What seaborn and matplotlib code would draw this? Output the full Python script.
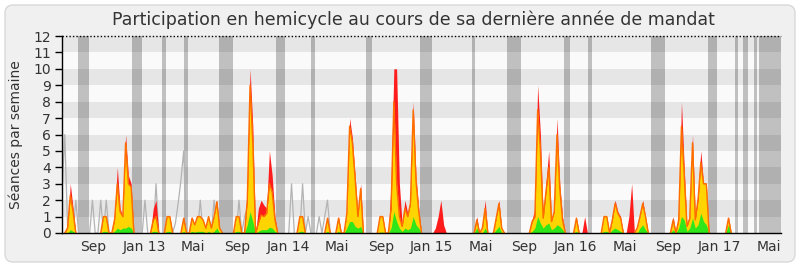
import matplotlib
matplotlib.use("Agg")
import matplotlib.pyplot as plt
import matplotlib.transforms as mtransforms
from matplotlib.patches import FancyBboxPatch
import numpy as np
import pandas as pd
import seaborn as sns

sns.set_style("white")
plt.rcParams['font.family'] = ['DejaVu Sans']

# ---------------- data (weekly values) ----------------
weeks = list(range(261))

presences = [
    0, 0, 0.3, 3, 1.5, 0, 0, 0, 0, 0,
    0, 0, 0, 0, 0, 1, 1, 0, 0, 1,
    4, 1.5, 1, 6, 3.5, 3, 0, 0, 0, 0,
    0, 0, 0, 1.5, 2, 0, 0, 0, 1, 1,
    0, 0, 0, 0, 1, 0, 0, 1, 0.5, 1,
    1, 0.8, 0.3, 1, 0.3, 1, 2, 0.3, 0, 0,
    0, 0, 0, 1, 1, 0, 0, 2.5, 10, 6.5,
    0, 1.5, 2, 1.7, 1.5, 5, 3.5, 1, 0, 0,
    0, 0, 0, 0, 0, 0, 1, 1, 0, 0,
    0, 0, 0, 0, 0, 0, 1, 0, 0, 0,
    1, 0, 0, 1.2, 7, 5.8, 3.5, 1.2, 3, 0,
    0, 0, 0, 0, 0, 1, 1, 0, 0, 3,
    10, 10, 3, 0.5, 2, 1.2, 2, 8, 3.5, 1.5,
    0, 0, 0, 0, 0, 0.3, 1, 2, 0.5, 0,
    0, 0, 0, 0, 0, 0, 0, 0, 0, 0,
    1, 0, 0.3, 2, 0, 0, 0, 1, 2, 0.3,
    0, 0, 0, 0, 0, 0, 0, 0, 0, 0,
    0.8, 1.5, 9, 6, 1, 3, 5, 0.8, 1.5, 7,
    3, 1, 0, 0, 0, 0, 1, 0, 0, 1,
    0, 0, 0, 0, 0, 0, 1, 1, 0, 1,
    2, 1.3, 1, 0, 0, 1, 3, 0, 0.3, 1,
    2, 1, 0, 0, 0, 0, 0, 0, 0, 0,
    0, 1, 0, 1, 8, 4, 0.5, 1, 6, 1,
    2.5, 5, 3, 3, 0, 0, 0, 0, 0, 0,
    0, 1, 0, 0, 0, 0, 0, 0, 0, 0,
    0, 0, 0, 0, 0, 0, 0, 0, 0, 0, 0,
]

participations = [
    0, 0, 0.3, 2.3, 1.3, 0, 0, 0, 0, 0,
    0, 0, 0, 0, 0, 1, 1, 0, 0, 0.8,
    3, 1.3, 1, 5.5, 3, 2.8, 0, 0, 0, 0,
    0, 0, 0, 0.8, 1, 0, 0, 0, 1, 1,
    0, 0, 0, 0, 0.9, 0, 0, 0.9, 0.5, 1,
    1, 0.8, 0.3, 1, 0.3, 1, 1.9, 0.3, 0, 0,
    0, 0, 0, 1, 1, 0, 0, 2, 9, 5.5,
    0, 0.6, 1.1, 1, 1.2, 3, 2.5, 0.8, 0, 0,
    0, 0, 0, 0, 0, 0, 1, 1, 0, 0,
    0, 0, 0, 0, 0, 0, 0.9, 0, 0, 0,
    0.9, 0, 0, 1.2, 6.5, 5.5, 3.3, 1, 2.7, 0,
    0, 0, 0, 0, 0, 1, 1, 0, 0, 1.5,
    8, 3, 1, 0.4, 1.5, 1, 1.8, 7.5, 3.2, 1.3,
    0, 0, 0, 0, 0, 0, 0, 0, 0, 0,
    0, 0, 0, 0, 0, 0, 0, 0, 0, 0,
    0.8, 0, 0.3, 1.5, 0, 0, 0, 0.9, 1.8, 0.3,
    0, 0, 0, 0, 0, 0, 0, 0, 0, 0,
    0.7, 1, 7.5, 5, 0.9, 2.5, 4, 0.7, 1.3, 6,
    2.7, 0.8, 0, 0, 0, 0, 0.9, 0, 0, 0,
    0, 0, 0, 0, 0, 0, 1, 1, 0, 0.8,
    1.8, 1.2, 0.9, 0, 0, 0, 0, 0, 0.3, 1,
    1.8, 1, 0, 0, 0, 0, 0, 0, 0, 0,
    0, 0.8, 0, 0.8, 6.5, 3.5, 0.4, 0.9, 5.5, 0.8,
    2, 4.3, 3, 3, 0, 0, 0, 0, 0, 0,
    0, 0.9, 0, 0, 0, 0, 0, 0, 0, 0,
    0, 0, 0, 0, 0, 0, 0, 0, 0, 0, 0,
]

interventions = [
    0, 0, 0, 0.2, 0.1, 0, 0, 0, 0, 0,
    0, 0, 0, 0, 0, 0.1, 0.1, 0, 0, 0.1,
    0.3, 0.2, 0.3, 0.3, 0.4, 0.3, 0, 0, 0, 0,
    0, 0, 0, 0.1, 0.1, 0, 0, 0, 0.1, 0.1,
    0, 0, 0, 0, 0.1, 0, 0, 0.1, 0.05, 0.1,
    0.1, 0.1, 0, 0.1, 0, 0.1, 0.3, 0, 0, 0,
    0, 0, 0, 0.1, 0.1, 0, 0, 0.5, 1.3, 0.7,
    0, 0.1, 0.2, 0.2, 0.2, 0.35, 0.3, 0.1, 0, 0,
    0, 0, 0, 0, 0, 0, 0.1, 0.1, 0, 0,
    0, 0, 0, 0, 0, 0, 0.1, 0, 0, 0,
    0.1, 0, 0, 0.3, 0.7, 0.7, 0.4, 0.3, 0.4, 0,
    0, 0, 0, 0, 0, 0.05, 0.05, 0, 0, 0.3,
    1.3, 0.7, 0.3, 0.1, 0.3, 0.2, 0.3, 1, 0.5, 0.3,
    0, 0, 0, 0, 0, 0, 0, 0, 0, 0,
    0, 0, 0, 0, 0, 0, 0, 0, 0, 0,
    0.3, 0, 0, 0.3, 0, 0, 0, 0.2, 0.4, 0,
    0, 0, 0, 0, 0, 0, 0, 0, 0, 0,
    0.1, 0.3, 1, 0.6, 0.3, 0.5, 0.6, 0.2, 0.3, 0.5,
    0.4, 0.2, 0, 0, 0, 0, 0.1, 0, 0, 0,
    0, 0, 0, 0, 0, 0, 0.1, 0.1, 0, 0.2,
    0.3, 0.2, 0.1, 0, 0, 0, 0, 0, 0, 0.3,
    0.5, 0.2, 0, 0, 0, 0, 0, 0, 0, 0,
    0, 0.2, 0, 0.3, 1, 0.8, 0.1, 0.3, 0.9, 0.3,
    0.5, 1.2, 0.7, 0.5, 0, 0, 0, 0, 0, 0,
    0, 0.5, 0, 0, 0, 0, 0, 0, 0, 0,
    0, 0, 0, 0, 0, 0, 0, 0, 0, 0, 0,
]

mediane = [
    2.5, 6, 0.5, 0, 0, 2, 0, 0, 0, 0,
    0, 2, 0, 0, 2, 0, 2, 0, 0, 0,
    0, 0, 0, 0, 0, 0, 0, 0, 0, 0,
    2, 0, 0, 0, 3, 0, 0, 0, 0, 0,
    0, 0.6, 1.8, 3.2, 5, 0, 0, 0, 0, 0,
    2, 0, 0, 0, 0, 2, 0, 0, 0, 0,
    0, 0, 0, 0, 2, 0, 1, 1.5, 0, 0,
    0, 0, 0, 0, 0, 0, 0, 0, 0, 0,
    0, 0, 0, 3, 0, 0, 0, 3, 0, 1,
    0, 0, 0, 1, 0, 1, 2, 0, 0, 0,
] + [0] * 161

vacances = [(5.8, 9.9), (25.4, 28.8), (36.3, 37.5), (44.1, 45.5), (56.8, 62.0),
            (77.4, 80.7), (90.1, 91.4), (109.9, 112.1), (129.5, 133.8),
            (148.3, 149.5), (160.8, 165.9), (181.6, 183.7), (190.2, 191.7),
            (212.9, 218.1), (233.6, 237.0), (243.3, 244.5), (246.2, 247.9),
            (250.3, 251.2), (252.2, 260.0)]

tick_weeks = [11.2, 29.8, 47.4, 63.2, 81.7, 99.5, 115.4, 133.6, 151.5,
              167.1, 185.8, 203.6, 219.2, 237.8, 255.7]
tick_labels = ["Sep", "Jan 13", "Mai", "Sep", "Jan 14", "Mai", "Sep", "Jan 15",
               "Mai", "Sep", "Jan 16", "Mai", "Sep", "Jan 17", "Mai"]

title = "Participation en hemicycle au cours de sa dernière année de mandat"
ylabel = "Séances par semaine"

df = pd.DataFrame({
    "semaine": weeks,
    "presences": presences,
    "participations": participations,
    "interventions": interventions,
    "mediane": mediane,
})


def visible_runs(col):
    """Keep only the parts of a line that leave zero; label each run."""
    v = df[col].to_numpy()
    nz = v > 0
    keep = nz.copy()
    keep[1:] |= nz[:-1]
    keep[:-1] |= nz[1:]
    run = np.cumsum(~keep)
    sub = pd.DataFrame({"semaine": df["semaine"], "val": v, "run": run})
    return sub[keep]


# ---------------- figure ----------------
W, H = 800, 267
fig = plt.figure(figsize=(W / 100, H / 100), dpi=100)
fig.patch.set_facecolor("white")
frame = FancyBboxPatch((5, 5), 790, 257, boxstyle="round,pad=0,rounding_size=8",
                       transform=mtransforms.IdentityTransform(),
                       facecolor="#f0f0f0", edgecolor="#d9d9d9", lw=1, zorder=-10)
fig.add_artist(frame)

ax = fig.add_axes([62 / W, 34 / H, 719 / W, 197 / H])
ax.set_zorder(1)
ax.set_facecolor("#fafafa")

for s, e in vacances:
    ax.axvspan(s, e, color="#c0c0c0", lw=0, zorder=0.5)
for k in range(1, 12, 2):
    ax.axhspan(k, k + 1, color="black", alpha=0.08, lw=0, zorder=0.6)

sns.lineplot(data=visible_runs("mediane"), x="semaine", y="val", units="run",
             estimator=None, color="#b3b3b3", lw=0.9, ax=ax, zorder=1)
ax.fill_between(df["semaine"], df["presences"], color="#ff1c1c", lw=0, zorder=2)
ax.fill_between(df["semaine"], df["participations"], color="#ffd400", lw=0, zorder=3)
ax.fill_between(df["semaine"], df["interventions"], color="#2fe61a", lw=0, zorder=3.5)
sns.lineplot(data=visible_runs("participations"), x="semaine", y="val", units="run",
             estimator=None, color="#ff6c00", lw=1.0, ax=ax, zorder=4)

ax.axhline(12, color="black", ls=(0, (1, 1.5)), lw=1, zorder=6, clip_on=False)

ax.set_xlim(0, 260)
ax.set_ylim(0, 12)
ax.set_yticks(range(13))
ax.set_xticks(tick_weeks)
ax.set_xticklabels(tick_labels)
ax.set_xlabel("")
ax.set_ylabel(ylabel, fontsize=10, color="#333333")
ax.yaxis.set_label_coords(-0.054, 0.5)

ax.tick_params(axis="y", left=True, length=5, width=1, color="black",
               labelsize=10, labelcolor="#333333", pad=3)
ax.tick_params(axis="x", bottom=False, length=0, labelsize=10,
               labelcolor="#333333", pad=5)

for side in ["top", "right"]:
    ax.spines[side].set_visible(False)
for side in ["left", "bottom"]:
    ax.spines[side].set_color("black")
    ax.spines[side].set_linewidth(1)
    ax.spines[side].set_zorder(7)

fig.text(413 / W, 1 - 20 / H, title, ha="center", va="center",
         fontsize=12.5, color="#333333")

fig.savefig("out.png", dpi=100, facecolor=fig.get_facecolor())
